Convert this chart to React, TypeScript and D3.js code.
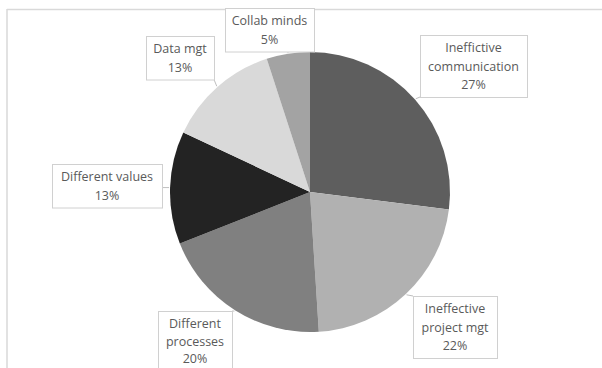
import React from "react";
import * as d3 from "d3";

const categories = [
  "Ineffective communication",
  "Ineffective project mgt",
  "Different processes",
  "Different values",
  "Data mgt",
  "Collab minds",
];
const values = [27, 22, 20, 13, 13, 5];
const labelLines = [
  ["Ineffictive", "communication", "27%"],
  ["Ineffective", "project mgt", "22%"],
  ["Different", "processes", "20%"],
  ["Different values", "13%"],
  ["Data mgt", "13%"],
  ["Collab minds", "5%"],
];

const colors = ["#5e5e5e", "#b1b1b1", "#808080", "#232323", "#d9d9d9", "#a3a3a3"];
// label box layout (x, y, w, line spacing) in pixels
const boxes = [
  { x: 420, y: 35, w: 107, lh: 18.5 },
  { x: 413, y: 296, w: 84, lh: 18.5 },
  { x: 158, y: 311, w: 74, lh: 17.5 },
  { x: 52, y: 164, w: 110, lh: 18.5 },
  { x: 146, y: 36, w: 68, lh: 18.5 },
  { x: 225, y: 8, w: 89, lh: 18.5 },
];

const W = 602;
const H = 368;
const cx = 310;
const cy = 192;
const R = 140;

export default function App() {
  const pie = d3.pie<number>().sort(null).value((d) => d);
  const arcs = pie(values);
  const arc = d3.arc<d3.PieArcDatum<number>>().innerRadius(0).outerRadius(R);

  return (
    <svg
      width={W}
      height={H}
      style={{ position: "absolute", left: 0, top: 0, background: "#fff" }}
      fontFamily="'Open Sans', sans-serif"
    >
      <rect x={0} y={0} width={W} height={H} fill="#fff" />
      <line x1={7} y1={9.5} x2={W} y2={9.5} stroke="#d9d9d9" strokeWidth={1.5} />
      <line x1={7} y1={9} x2={7} y2={H} stroke="#d9d9d9" strokeWidth={1.5} />
      <g transform={`translate(${cx},${cy})`}>
        {arcs.map((a, i) => (
          <path key={categories[i]} d={arc(a) || ""} fill={colors[i]} />
        ))}
      </g>
      {arcs.map((a, i) => {
        const b = boxes[i];
        const lines = labelLines[i];
        const h = 13 + b.lh * (lines.length - 1) + 12;
        const mid = (a.startAngle + a.endAngle) / 2;
        const px = cx + Math.sin(mid) * (R + 1);
        const py = cy - Math.cos(mid) * (R + 1);
        const qx = Math.max(b.x, Math.min(b.x + b.w, px));
        const qy = Math.max(b.y, Math.min(b.y + h, py));
        return (
          <g key={"lbl" + i}>
            <line x1={px} y1={py} x2={qx} y2={qy} stroke="#bfbfbf" strokeWidth={1} />
            <rect
              x={b.x + 0.5}
              y={b.y + 0.5}
              width={b.w}
              height={h}
              fill="#fff"
              stroke="#d0d0d0"
              strokeWidth={1}
            />
            {lines.map((t, j) => (
              <text
                key={j}
                x={b.x + b.w / 2}
                y={b.y + 13 + b.lh * j}
                dy="0.35em"
                textAnchor="middle"
                fontSize={12.5}
                fill="#5a5a5a"
              >
                {t}
              </text>
            ))}
          </g>
        );
      })}
    </svg>
  );
}
